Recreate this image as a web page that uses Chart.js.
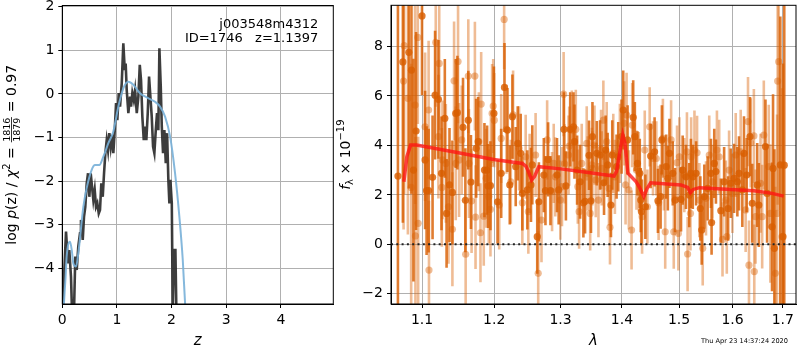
<!DOCTYPE html>
<html><head><meta charset="utf-8">
<script src="https://cdn.jsdelivr.net/npm/chart.js@4/dist/chart.umd.min.js"></script>
<style>
html,body{margin:0;padding:0;background:#fff;}
#wrap{position:relative;width:800px;height:350px;overflow:hidden;background:#fff;}
canvas{position:absolute;top:0;}
#c1{left:0;} #c2{left:335px;}
</style></head><body>
<div id="wrap"><canvas id="c1" width="335" height="350"></canvas><canvas id="c2" width="465" height="350"></canvas></div>
<script>
// ---------- LEFT PANEL DATA ----------
const zTicks = [0, 1, 2, 3, 4];
const logpTicks = [-4, -3, -2, -1, 0, 1, 2];
const zRange = [0, 4.96];
const logpRange = [-4.82, 2.03];
const pzZ = [0.007,0.031,0.068,0.104,0.128,0.159,0.178,0.214,0.238,0.264,0.293,0.324,0.342,0.374,0.397,0.421,0.447,0.471,0.495,0.520,0.544,0.568,0.593,0.617,0.641,0.667,0.690,0.714,0.740,0.764,0.788,0.813,0.837,0.861,0.886,0.910,0.934,0.960,0.984,1.007,1.033,1.057,1.088,1.117,1.143,1.160,1.179,1.209,1.240,1.258,1.282,1.308,1.332,1.363,1.392,1.418,1.441,1.465,1.491,1.515,1.538,1.564,1.588,1.612,1.637,1.661,1.685,1.711,1.734,1.758,1.777,1.802,1.821,1.844,1.868,1.894,1.918,1.941,1.960,1.978,2.004,2.022,2.046,2.070,2.088];
const pzLogP = [-5.0,-4.23,-3.16,-3.89,-3.58,-4.19,-5.0,-5.0,-3.73,-4.04,-3.50,-3.20,-2.89,-3.35,-2.82,-2.59,-2.05,-1.82,-2.36,-1.82,-2.13,-2.43,-2.20,-2.59,-2.51,-2.74,-2.66,-2.05,-2.36,-1.82,-1.36,-1.06,-1.29,-0.90,-1.21,-0.94,-1.36,-0.83,-0.21,-0.60,0.02,-0.29,0.25,1.16,0.55,0.70,0.09,-0.44,-0.06,-0.29,0.02,-0.14,0.09,-0.44,-0.06,0.67,0.32,-0.52,-1.06,-0.75,-1.06,-0.44,0.40,-0.06,-0.52,-1.21,-1.36,-0.83,-0.44,-0.83,1.05,0.17,-0.75,-1.36,-0.83,-1.59,-0.90,-1.97,-2.51,-1.97,-2.51,-5.0,-3.58,-3.58,-5.0];
const priorZ = [0.02,0.06,0.08,0.141,0.175,0.202,0.251,0.293,0.385,0.446,0.538,0.599,0.678,0.751,0.843,0.934,1.026,1.117,1.209,1.30,1.423,1.545,1.698,1.789,1.881,1.973,2.064,2.143,2.205,2.247,2.26];
const priorLogP = [-5.0,-4.2,-3.73,-3.39,-3.6,-3.89,-3.96,-3.66,-2.59,-2.16,-1.74,-1.63,-1.63,-1.44,-1.13,-0.86,-0.29,0.13,0.28,0.21,0.015,-0.08,-0.18,-0.29,-0.52,-0.98,-1.82,-2.82,-3.81,-4.80,-5.0];

// ---------- RIGHT PANEL DATA ----------
const lamTicks = [1.1, 1.2, 1.3, 1.4, 1.5, 1.6, 1.7];
const fluxTicks = [-2, 0, 2, 4, 6, 8];
const lamRange = [1.0595, 1.7273];
const fluxRange = [-2.41, 9.66];
const zeroLevel = 0;
const lamA = [1.0684,1.0748,1.0826,1.0860,1.0886,1.0920,1.0999,1.1040,1.1060,1.1087,1.1140,1.1174,1.1219,1.1261,1.1306,1.1330,1.1370,1.1410,1.1456,1.1479,1.1557,1.1590,1.1631,1.1668,1.1742,1.1770,1.1860,1.1898,1.1912,1.1946,
1.1996,1.2049,1.2102,1.2150,1.2194,1.2228,1.2267,1.2316,1.2346,1.2390,1.2415,1.2490,1.2545,1.2565,1.2640,1.2665,1.2741,1.2766,1.2807,1.2843,1.2945,1.2971,1.3054,1.3085,1.3153,1.3205,1.3221,1.3263,1.3311,1.3364,1.3391,1.3455,1.3487,
1.3511,1.3582,1.3636,1.3701,1.3728,1.3761,1.3816,1.3838,1.3910,1.3938,1.3994,1.4022,1.4096,1.4192,1.4220,1.4265,1.4305,1.4322,1.4334,1.4402,1.4494,1.4563,1.4622,1.4669,1.4692,1.4768,1.4798,1.4827,1.4886,1.4928,1.5035,1.5065,1.5125,1.5185,1.5216,
1.5250,1.5311,1.5390,1.5415,1.5464,1.5526,1.5588,1.5600,1.5651,1.5682,1.5775,1.5838,1.5914,1.5965,1.6029,1.6093,1.6125,1.6190,1.6222,1.6275,1.6340,1.6385,1.6483,1.6516,1.6648,1.6681,1.6781,1.6801,1.6828,1.6949,1.7004,1.7030];
const fluxA = [2.76,7.37,7.76,7.04,3.00,4.58,9.23,3.41,2.17,2.17,2.71,6.03,5.86,2.87,5.09,1.25,2.40,2.10,5.29,5.32,4.73,1.78,5.02,2.52,3.88,4.15,3.00,3.00,2.36,2.37,
5.29,1.72,2.87,6.34,4.62,2.40,5.16,3.14,4.08,3.68,2.06,2.20,2.40,3.21,0.31,1.72,2.80,2.17,3.43,2.17,2.80,2.20,4.65,2.36,4.65,4.75,4.15,3.00,2.53,1.68,1.74,3.60,1.76,
4.35,3.68,3.61,2.49,3.81,3.21,1.59,3.61,3.14,3.54,4.35,5.43,4.22,5.13,4.35,3.27,2.87,1.79,1.32,1.52,3.57,3.74,1.76,1.93,4.22,3.14,2.67,3.68,2.87,1.79,1.82,3.00,2.73,1.99,2.87,
2.73,2.87,1.45,0.58,1.93,2.26,2.87,0.88,3.27,2.94,1.36,2.53,1.45,2.47,2.67,2.53,2.87,2.20,3.68,2.80,4.35,1.66,2.40,1.59,3.95,2.06,0.71,3.07,-0.16,3.21,0.31,3.20];
const errA = [7.0,6.5,5.5,5.0,4.5,4.0,3.2,2.8,2.6,2.5,2.5,2.6,2.4,2.3,2.4,2.2,2.3,2.1,2.2,2.3,2.0,2.1,2.0,1.9,2.0,1.8,1.9,1.8,1.7,1.8,
1.9,1.7,1.8,1.8,1.7,1.6,1.7,1.6,1.5,1.6,1.5,1.6,1.5,1.6,1.5,1.6,1.5,1.4,1.5,1.4,1.5,1.4,1.5,1.4,1.5,1.4,1.5,1.4,1.5,1.4,1.3,1.4,1.3,
1.4,1.3,1.4,1.3,1.4,1.3,1.3,1.4,1.3,1.4,1.5,1.6,1.4,1.5,1.4,1.3,1.4,1.3,1.3,1.3,1.3,1.4,1.3,1.3,1.4,1.3,1.3,1.4,1.3,1.3,1.3,1.4,1.3,1.3,1.4,
1.3,1.3,1.3,1.4,1.3,1.3,1.4,1.3,1.4,1.3,1.3,1.4,1.3,1.4,1.4,1.4,1.5,1.5,1.5,1.5,1.6,1.6,1.7,1.7,1.9,2.0,2.6,3.0,4.0,6.0,7.0,8.0];
const lamB = [1.0757,1.0765,1.0813,1.0856,1.0907,1.0912,1.0943,1.0948,1.1040,1.1087,1.1092,1.1183,1.1219,1.1230,1.1265,1.1274,1.1320,1.1356,1.1410,1.1433,1.1456,1.1488,1.1502,1.1539,1.1594,1.1631,1.1640,1.1677,1.1724,1.1733,1.1780,1.1803,1.1813,1.1850,1.1884,1.1922,1.1946,1.1970,
1.1953,1.1986,1.2001,1.2073,1.2102,1.2145,1.2179,1.2243,1.2277,1.2366,1.2415,1.2465,1.2505,1.2525,1.2615,1.2655,1.2705,1.2792,1.2868,1.2894,1.2919,1.2997,1.3023,1.3049,1.3064,1.3127,1.3137,1.3179,1.3242,1.3274,1.3295,1.3337,1.3418,1.3434,1.3509,
1.3474,1.3501,1.3544,1.3565,1.3609,1.3652,1.3663,1.3690,1.3745,1.3783,1.3800,1.3855,1.3882,1.3966,1.4039,1.4062,1.4079,1.4118,1.4164,1.4175,1.4248,1.4288,1.4345,1.4391,1.4437,1.4477,1.4535,1.4593,1.4634,1.4710,1.4727,1.4751,1.4856,1.4904,1.4963,1.4987,1.5005,1.5095,1.5143,1.5155,
1.5207,1.5220,1.5281,1.5329,1.5372,1.5434,1.5495,1.5556,1.5619,1.5701,1.5744,1.5807,1.5870,1.5889,1.5933,1.5997,1.6061,1.6158,1.6255,1.6301,1.6320,1.6353,1.6417,1.6425,1.6450,1.6549,1.6582,1.6615,1.6714,1.6747,1.6848,1.6882,1.6895,1.6916,1.6983];
const fluxB = [6.60,8.03,5.90,2.30,5.63,0.34,8.36,0.85,4.75,5.43,-1.04,8.16,4.35,7.31,2.30,3.41,3.27,1.52,0.61,6.61,3.27,7.39,3.41,4.22,-0.40,6.80,3.27,1.75,6.80,1.10,4.15,0.47,5.67,1.14,2.67,1.93,1.41,5.29,
3.27,5.59,5.02,1.59,4.28,9.09,4.65,2.53,5.23,3.88,1.68,3.54,1.32,2.87,3.61,-1.17,0.98,4.22,2.13,3.27,2.73,1.79,2.33,6.07,3.25,3.61,3.97,4.62,4.65,2.33,1.32,3.27,4.08,2.87,3.07,
1.25,3.21,4.01,2.60,1.79,3.84,3.07,5.02,4.15,2.26,0.69,3.68,2.73,4.08,4.89,2.40,5.23,2.20,0.58,4.82,3.00,2.94,1.12,3.81,1.52,4.75,3.47,3.47,1.68,4.28,2.87,0.51,4.22,0.51,3.30,0.44,3.54,2.80,3.74,-0.39,
1.25,3.54,3.81,3.70,1.79,-0.16,1.86,3.61,2.53,3.81,3.54,0.20,1.79,0.31,3.00,2.06,3.61,3.74,1.39,4.96,-0.84,4.10,4.38,-1.10,1.12,2.47,1.12,4.42,3.14,1.25,-1.17,1.25,6.60,7.38,0.31];
const errB = [6.0,6.0,5.5,5.0,4.0,4.0,3.5,3.5,3.0,2.8,2.8,2.6,2.5,2.7,2.4,2.4,2.4,2.3,2.3,2.4,2.3,2.5,2.3,2.2,2.2,2.3,2.2,2.1,2.2,2.1,2.0,2.0,2.1,2.0,2.0,1.9,1.9,2.0,
1.9,1.9,1.9,1.8,1.8,2.0,1.8,1.7,1.8,1.7,1.7,1.7,1.7,1.6,1.7,1.7,1.7,1.6,1.6,1.6,1.6,1.6,1.6,1.7,1.6,1.6,1.6,1.6,1.6,1.5,1.5,1.6,1.5,1.5,1.5,
1.5,1.5,1.6,1.5,1.5,1.6,1.5,1.6,1.6,1.5,1.5,1.6,1.5,1.6,1.7,1.6,1.7,1.6,1.6,1.7,1.6,1.6,1.5,1.6,1.5,1.6,1.5,1.5,1.5,1.6,1.5,1.5,1.6,1.5,1.5,1.5,1.6,1.5,1.6,1.5,
1.5,1.6,1.6,1.5,1.5,1.5,1.5,1.6,1.5,1.6,1.5,1.5,1.6,1.5,1.6,1.6,1.7,1.7,1.7,1.8,1.8,1.8,1.9,1.9,1.9,2.0,2.1,2.2,2.5,2.8,3.5,4.0,5.0,6.0,6.0];
const modelLam = [1.0761,1.0800,1.0848,1.0926,1.1456,1.1993,1.2415,1.2470,1.2520,1.2555,1.2600,1.2665,1.3000,1.3444,1.3866,1.3910,1.3970,1.4015,1.4050,1.4102,1.4243,1.4300,1.4376,1.4430,1.4494,1.5035,1.5155,1.5207,1.5260,1.5372,1.6417,1.6781,1.7017];
const modelFlux = [2.53,3.55,4.01,4.01,3.72,3.43,3.27,3.15,2.85,2.60,2.75,3.14,3.05,2.90,2.76,2.95,3.80,4.42,4.10,2.87,2.53,2.30,1.93,2.25,2.49,2.40,2.30,2.09,2.22,2.29,2.17,2.06,1.95];

const titleText = 'j003548m4312';
const idText = 'ID=1746   z=1.1397';
const stampText = 'Thu Apr 23 14:37:24 2020';

// ---------- HELPERS ----------
const FAM = "'DejaVu Sans', sans-serif";
Chart.defaults.font.family = FAM;
const pts = (xs, ys) => xs.map((x, i) => ({x: x, y: ys[i]}));
const fmtNum = v => String(v).replace('-', '\u2212');

function drawRich(ctx, segs, cx, baseX, cy) {
  // rotated -90deg; baseline placed at screen x = baseX, centred on cy
  ctx.save();
  ctx.translate(baseX, cy);
  ctx.rotate(-Math.PI / 2);
  ctx.fillStyle = '#000';
  ctx.textAlign = 'left';
  ctx.textBaseline = 'alphabetic';
  const widths = segs.map(s => {
    ctx.font = s.font;
    if (s.frac) return Math.max(ctx.measureText(s.frac[0]).width, ctx.measureText(s.frac[1]).width) + 2;
    return ctx.measureText(s.text).width;
  });
  const total = widths.reduce((a, b) => a + b, 0);
  let x = -total / 2;
  segs.forEach((s, i) => {
    ctx.font = s.font;
    if (s.frac) {
      const w = widths[i];
      const n = ctx.measureText(s.frac[0]).width, d = ctx.measureText(s.frac[1]).width;
      ctx.fillText(s.frac[0], x + (w - n) / 2, -6.2);
      ctx.fillText(s.frac[1], x + (w - d) / 2, 3.6);
      ctx.fillRect(x + 0.5, -5, w - 1, 0.8);
    } else {
      ctx.fillText(s.text, x, s.dy || 0);
    }
    x += widths[i];
  });
  ctx.restore();
}

const framePlugin = {
  id: 'frame',
  afterDraw(chart) {
    const {ctx, chartArea: a} = chart;
    ctx.save();
    ctx.strokeStyle = '#000';
    ctx.lineWidth = 1;
    ctx.strokeRect(a.left, a.top, a.right - a.left, a.bottom - a.top);
    ctx.restore();
  }
};

const errorBarPlugin = {
  id: 'errbars',
  beforeDatasetDraw(chart, args) {
    const ds = chart.data.datasets[args.index];
    if (!ds.errors) return;
    const {ctx, chartArea: a} = chart;
    const xs = chart.scales.x, ys = chart.scales.y;
    ctx.save();
    ctx.beginPath();
    ctx.rect(a.left, a.top, a.right - a.left, a.bottom - a.top);
    ctx.clip();
    ctx.strokeStyle = ds.errorColor;
    ctx.lineWidth = ds.errorWidth;
    ctx.lineCap = 'butt';
    ds.data.forEach((p, i) => {
      const px = xs.getPixelForValue(p.x);
      ctx.beginPath();
      ctx.moveTo(px, ys.getPixelForValue(p.y - ds.errors[i]));
      ctx.lineTo(px, ys.getPixelForValue(p.y + ds.errors[i]));
      ctx.stroke();
    });
    ctx.restore();
  }
};

function axisCfg(type, range, ticks, fit, cb) {
  return {
    type: type,
    min: range[0], max: range[1],
    afterBuildTicks: s => { s.ticks = ticks.map(v => ({value: v})); s.min = range[0]; s.max = range[1]; },
    afterFit: fit,
    grid: {color: '#b0b0b0', lineWidth: 1, tickColor: '#000', tickLength: 4, drawTicks: true},
    border: {display: true, color: '#000', width: 1},
    ticks: {color: '#000', font: {family: FAM, size: 14}, padding: 4, maxRotation: 0, autoSkip: false, callback: cb}
  };
}

// ---------- LEFT CHART ----------
const leftText = {
  id: 'leftText',
  afterDraw(chart) {
    const {ctx, chartArea: a} = chart;
    ctx.save();
    ctx.fillStyle = '#000';
    ctx.font = '13px ' + FAM;
    ctx.textAlign = 'right';
    ctx.textBaseline = 'alphabetic';
    ctx.fillText(titleText, a.right - 15, a.top + 22);
    ctx.fillText(idText, a.right - 15, a.top + 36);
    ctx.textAlign = 'center';
    ctx.font = 'italic 15px ' + FAM;
    ctx.fillText('z', (a.left + a.right) / 2, 345);
    ctx.restore();
    const N = '14px ' + FAM, I = 'italic 14px ' + FAM, S = '10px ' + FAM, F = '9.5px ' + FAM;
    drawRich(ctx, [
      {text: 'log ', font: N}, {text: 'p', font: I}, {text: '(z)', font: N},
      {text: ' / ', font: N}, {text: '\u03C7', font: I}, {text: '2', font: S, dy: -6},
      {text: ' = ', font: N}, {frac: ['1816', '1879'], font: F}, {text: ' = 0.97', font: N}
    ], 0, 16, (a.top + a.bottom) / 2);
  }
};

new Chart(document.getElementById('c1'), {
  type: 'scatter',
  data: {datasets: [
    {data: pts(priorZ, priorLogP), showLine: true, borderColor: 'rgba(120,176,216,0.9)', borderWidth: 2,
     pointRadius: 0, cubicInterpolationMode: 'monotone', order: 0, clip: 0},
    {data: pts(pzZ, pzLogP), showLine: true, borderColor: 'rgba(45,45,45,0.92)', borderWidth: 2.6,
     pointRadius: 0, order: 1, clip: 0}
  ]},
  options: {
    responsive: false, animation: false, events: [],
    layout: {padding: {left: 0, right: 1.7, top: 5.5, bottom: 0}},
    plugins: {legend: {display: false}, tooltip: {enabled: false}},
    scales: {
      x: axisCfg('linear', zRange, zTicks, s => { s.height = 46; s.paddingLeft = 0; s.paddingRight = 0; }, v => fmtNum(v)),
      y: axisCfg('linear', logpRange, logpTicks, s => { s.width = 62.3; s.paddingTop = 0; s.paddingBottom = 0; }, v => fmtNum(v))
    }
  },
  plugins: [framePlugin, leftText]
});

// ---------- RIGHT CHART ----------
const rightText = {
  id: 'rightText',
  afterDraw(chart) {
    const {ctx, chartArea: a} = chart;
    ctx.save();
    ctx.fillStyle = '#000';
    ctx.textAlign = 'center';
    ctx.textBaseline = 'alphabetic';
    ctx.font = 'italic 15px ' + FAM;
    ctx.fillText('\u03BB', (a.left + a.right) / 2, 345);
    ctx.font = '6.6px ' + FAM;
    ctx.textAlign = 'right';
    ctx.fillText(stampText, 453, 342.5);
    ctx.restore();
    const N = '14px ' + FAM, I = 'italic 14px ' + FAM, S = '10px ' + FAM;
    drawRich(ctx, [
      {text: 'f', font: I}, {text: '\u03BB', font: S, dy: 3},
      {text: ' \u00D7 10', font: N}, {text: '\u221219', font: S, dy: -6}
    ], 0, 15, (a.top + a.bottom) / 2);
  }
};

new Chart(document.getElementById('c2'), {
  type: 'scatter',
  data: {datasets: [
    {data: [{x: lamRange[0], y: zeroLevel}, {x: lamRange[1], y: zeroLevel}], showLine: true,
     borderColor: '#222', borderWidth: 2, borderDash: [2, 3.3], pointRadius: 0, order: 0, clip: 0},
    {data: pts(modelLam, modelFlux), showLine: true, borderColor: 'rgba(255,20,20,0.78)', borderWidth: 3.5,
     pointRadius: 0, order: 1, clip: 0},
    {data: pts(lamB, fluxB), errors: errB, errorColor: 'rgba(217,95,2,0.42)', errorWidth: 2.6,
     pointRadius: 3.6, pointBackgroundColor: 'rgba(217,95,2,0.42)', pointBorderWidth: 0, order: 2, clip: 0},
    {data: pts(lamA, fluxA), errors: errA, errorColor: 'rgba(217,95,2,0.82)', errorWidth: 2.6,
     pointRadius: 3.6, pointBackgroundColor: 'rgba(217,95,2,0.82)', pointBorderWidth: 0, order: 3, clip: 0}
  ]},
  options: {
    responsive: false, animation: false, events: [],
    layout: {padding: {left: 0, right: 1, top: 5.3, bottom: 0}},
    plugins: {legend: {display: false}, tooltip: {enabled: false}},
    scales: {
      x: axisCfg('logarithmic', lamRange, lamTicks, s => { s.height = 46; s.paddingLeft = 0; s.paddingRight = 0; }, v => Number(v).toFixed(1)),
      y: axisCfg('linear', fluxRange, fluxTicks, s => { s.width = 56; s.paddingTop = 0; s.paddingBottom = 0; }, v => fmtNum(v))
    }
  },
  plugins: [framePlugin, errorBarPlugin, rightText]
});
</script>
</body></html>
